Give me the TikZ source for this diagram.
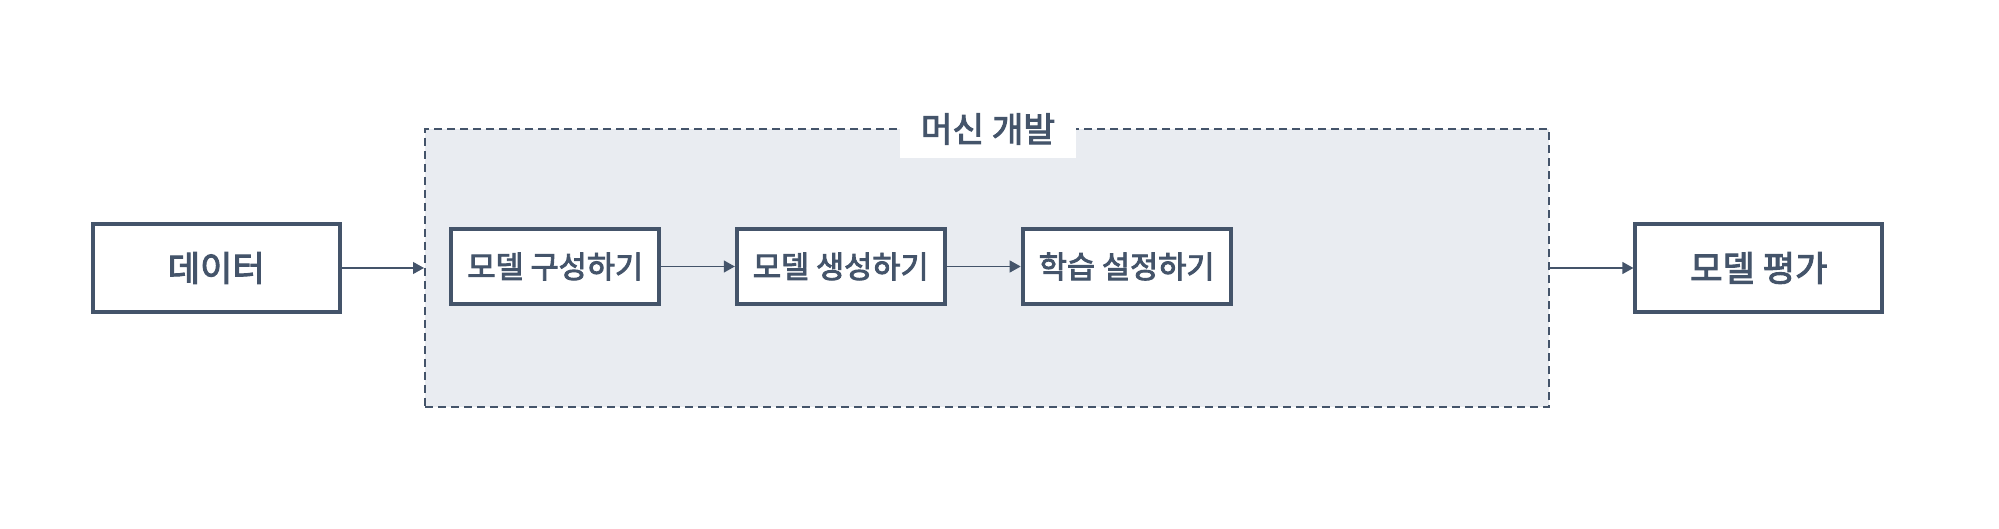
\documentclass[tikz,border=0pt]{standalone}
\usepackage{fontspec}
\setmainfont{Noto Sans CJK KR}[BoldFont={Noto Sans CJK KR},BoldFeatures={FakeBold=3}]
\usetikzlibrary{arrows.meta}
\definecolor{slate}{HTML}{44546A}
\definecolor{devfill}{HTML}{E9ECF1}
\begin{document}
\begin{tikzpicture}[x=0.5pt,y=-0.5pt,
    bigbox/.style={draw=slate,line width=2pt,fill=white,text=slate,
      minimum width=123.4pt,minimum height=44pt,
      font=\bfseries\fontsize{17.6}{20}\selectfont},
    smallbox/.style={draw=slate,line width=2pt,fill=white,text=slate,
      minimum width=104pt,minimum height=37.2pt,
      font=\bfseries\fontsize{15.3}{17}\selectfont},
    devbox/.style={draw=slate,line width=1pt,dash pattern=on 4pt off 2.5pt,
      fill=devfill,minimum width=562pt,minimum height=139pt},
    devtitle/.style={fill=white,text=slate,minimum width=88pt,minimum height=29.5pt,
      font=\bfseries\fontsize{17.2}{19}\selectfont},
    flow/.style={draw=slate,line width=0.6pt,-{Triangle[length=5.5pt,width=6pt]}}]
  \useasboundingbox (0,0) rectangle (1999,529);
  \draw
    (987,268) node[devbox] (dev){}
    (988,129) node[devtitle] (devlabel){머신 개발}
    (216.3,268) node[bigbox] (data){데이터}
    (1758.8,268) node[bigbox] (eval){모델 평가}
    (555.3,266.5) node[smallbox] (build){모델 구성하기}
    (840.8,266.5) node[smallbox] (create){모델 생성하기}
    (1126.7,266.5) node[smallbox] (setup){학습 설정하기};
  \begin{scope}[flow]
    \draw (data) to (dev.west);
    \draw (build) to (create);
    \draw (create) to (setup);
    \draw (dev.east) to (eval);
  \end{scope}
\end{tikzpicture}
\end{document}
